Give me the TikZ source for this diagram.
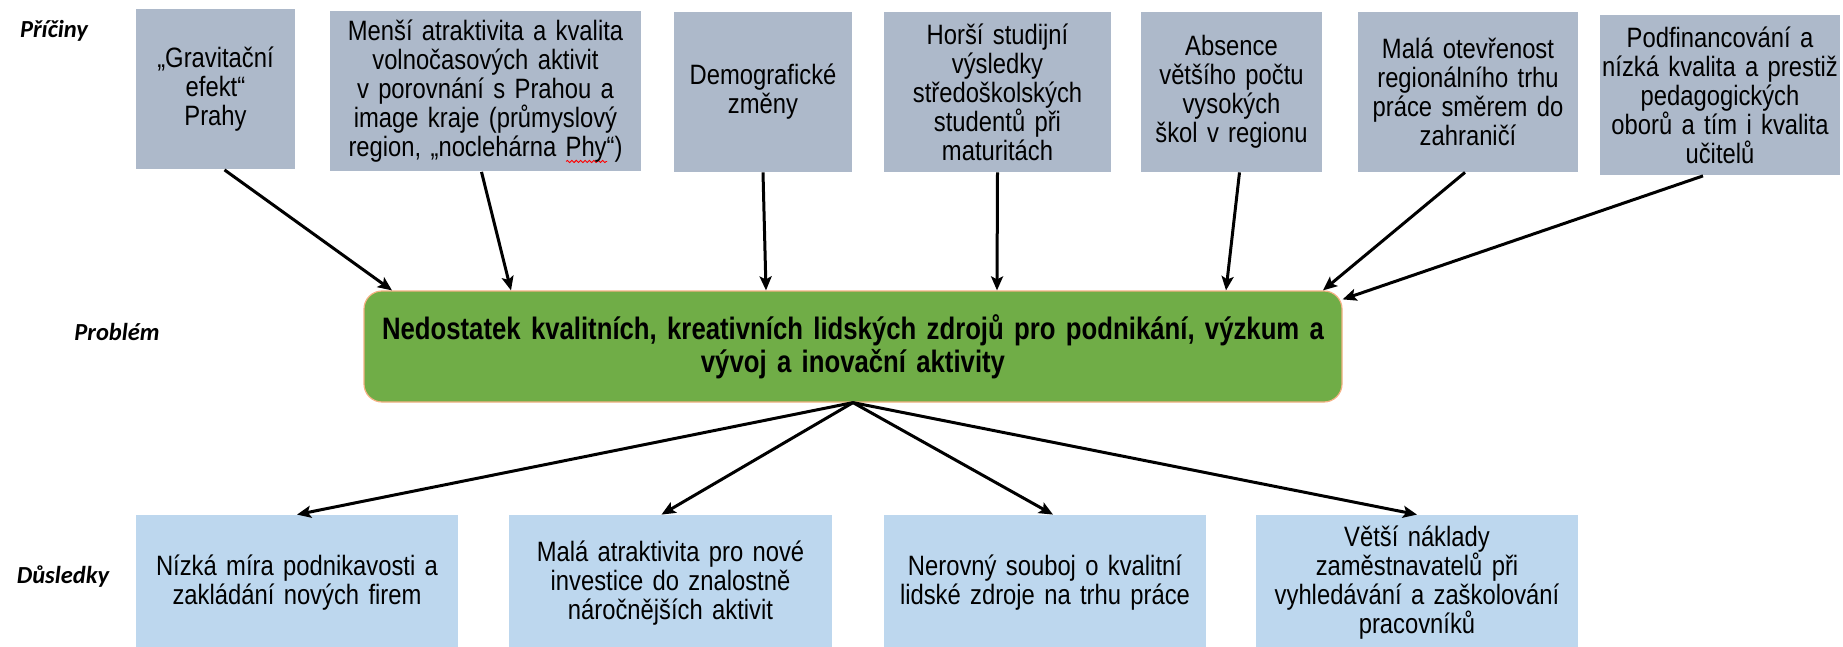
\documentclass[tikz,border=0pt]{standalone}
\usepackage{fontspec}
\setmainfont{Liberation Sans}
\newfontfamily\narrowfont{Liberation Sans}[FakeStretch=0.85]
\newfontfamily\greenfont{Liberation Sans}[FakeStretch=0.83]
\newfontfamily\labelfont{Carlito}
\usetikzlibrary{arrows.meta,decorations.pathmorphing}
\definecolor{causefill}{HTML}{ADB9CA}
\definecolor{effectfill}{HTML}{BDD7EE}
\definecolor{probfill}{HTML}{70AD47}
\definecolor{probedge}{HTML}{F4B183}
\newsavebox\spellbox
\newcommand\spellerr[1]{\sbox\spellbox{#1}\makebox[0pt][l]{\raisebox{-3.2pt}{\tikz\draw[red,line width=0.45pt,decorate,decoration={snake,amplitude=0.55pt,segment length=2.2pt}] (0pt,0pt) -- (\the\wd\spellbox,0pt);}}\usebox\spellbox}
\begin{document}
\begin{tikzpicture}[x=0.5pt,y=-0.5pt,
  cause/.style={rectangle,fill=causefill,inner sep=0pt,text width=#1,align=center,
    minimum height=80pt,font=\narrowfont\fontsize{14}{14.5}\selectfont},
  effect/.style={rectangle,fill=effectfill,inner sep=0pt,text width=#1,align=center,
    minimum height=68pt,font=\narrowfont\fontsize{14}{14.5}\selectfont},
  problem/.style={rectangle,rounded corners=9pt,fill=probfill,draw=probedge,line width=0.6pt,
    inner sep=0pt,text width=489pt,align=center,minimum height=55.5pt,
    font=\greenfont\bfseries\fontsize{15.5}{16.5}\selectfont},
  rowlabel/.style={inner sep=0pt,font=\labelfont\bfseries\itshape\fontsize{12.25}{14}\selectfont},
  arr/.style={-{Stealth[length=7pt,width=6pt,inset=1.5pt]},line width=1.5pt,black}
]
\useasboundingbox (0,0) rectangle (1843,647);

% row labels
\node[rowlabel] (lc) at (54,31) {Příčiny};
\node[rowlabel] (lp) at (117,332) {Problém};
\node[rowlabel] (le) at (63,577) {Důsledky};

% causes
\node[cause=79.5pt]  (t1) at (215.5,89.5) {„Gravitační\\efekt“\\Prahy};
\node[cause=155.5pt] (t2) at (485.5,91.5) {Menší atraktivita a kvalita\\volnočasových aktivit\\v porovnání s Prahou a\\image kraje (průmyslový\\region, „noclehárna \spellerr{Phy}“)};
\node[cause=89pt]    (t3) at (763,92) {Demografické\\změny};
\node[cause=113.5pt] (t4) at (997.5,92) {Horší studijní\\výsledky\\středoškolských\\studentů při\\maturitách};
\node[cause=90.5pt]  (t5) at (1231.5,92) {Absence\\většího počtu\\vysokých\\škol v regionu};
\node[cause=110pt]   (t6) at (1468,92) {Malá otevřenost\\regionálního trhu\\práce směrem do\\zahraničí};
\node[cause=120pt]   (t7) at (1720,95.5) {Podfinancování a\\nízká kvalita a prestiž\\pedagogických\\oborů a tím i kvalita\\učitelů};

% problem
\node[problem] (g) at (853,346.5) {Nedostatek kvalitních, kreativních lidských zdrojů pro podnikání, výzkum a\\vývoj a inovační aktivity};

% effects
\node[effect=161pt]   (e1) at (297,583) {Nízká míra podnikavosti a\\zakládání nových firem};
\node[effect=161.5pt] (e2) at (670.5,583) {Malá atraktivita pro nové\\investice do znalostně\\náročnějších aktivit};
\node[effect=161pt]   (e3) at (1045,583) {Nerovný souboj o kvalitní\\lidské zdroje na trhu práce};
\node[effect=161pt]   (e4) at (1417,583) {Větší náklady\\zaměstnavatelů při\\vyhledávání a zaškolování\\pracovníků};

% cause arrows
\draw[arr] ([xshift=4.5pt]t1.south) -- (392,0 |- g.north);
\draw[arr] ([xshift=-2pt]t2.south) -- (511,0 |- g.north);
\draw[arr] (t3.south) -- (766,0 |- g.north);
\draw[arr] (t4.south) -- (997,0 |- g.north);
\draw[arr] ([xshift=4pt]t5.south) -- (1226,0 |- g.north);
\draw[arr] ([xshift=-1.5pt]t6.south) -- (1323,0 |- g.north);
\draw[arr] ([xshift=-8.5pt]t7.south) -- ([yshift=-4.5pt]g.north east);

% effect arrows
\draw[arr] (g.south) -- (e1.north);
\draw[arr] (g.south) -- ([xshift=-4.5pt]e2.north);
\draw[arr] (g.south) -- ([xshift=4pt]e3.north);
\draw[arr] (g.south) -- (e4.north);
\end{tikzpicture}
\end{document}
